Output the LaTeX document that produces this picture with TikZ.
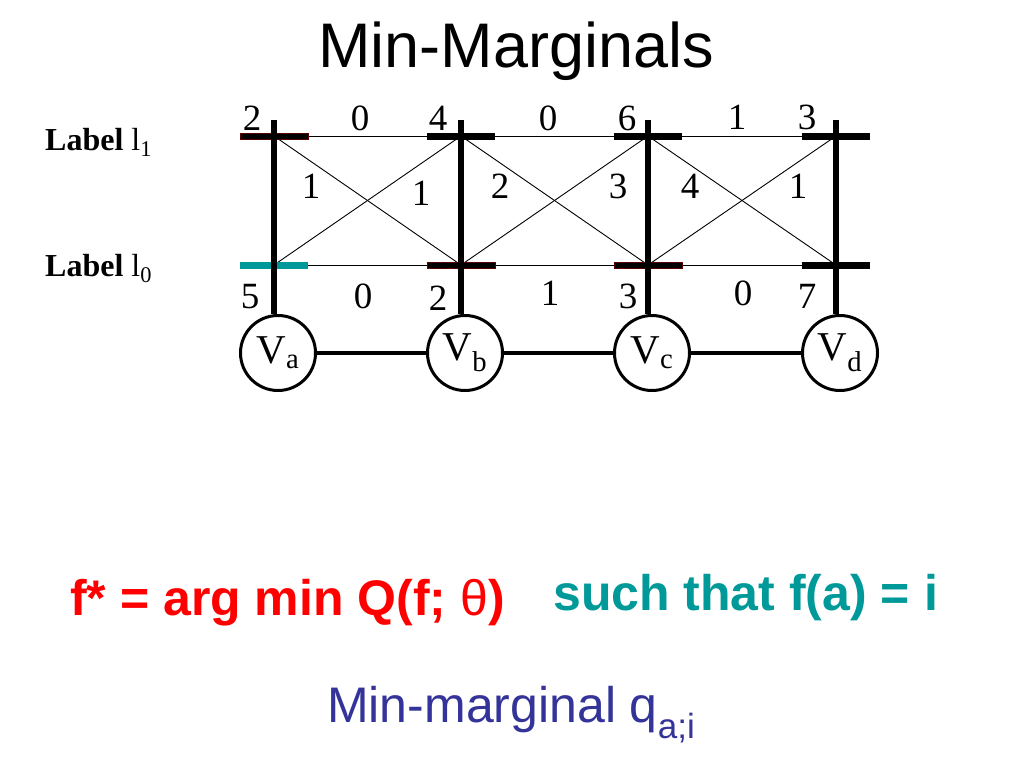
\documentclass[tikz,border=0pt]{standalone}
\usepackage{fontspec}
\setmainfont{Liberation Serif}
\newfontfamily\arial{Liberation Sans}
\definecolor{selteal}{RGB}{0,153,153}
\definecolor{minred}{RGB}{90,0,0}
\definecolor{margblue}{RGB}{51,51,153}
\newcommand\fsz[1]{\fontsize{#1}{#1}\selectfont}
\begin{document}
\begin{tikzpicture}[
        x=1pt, y=-1pt,
        var/.style={circle, draw, line width=3pt, minimum size=75pt, inner sep=0pt, font=\fsz{41}},
        num/.style={anchor=base, inner sep=0pt, font=\fsz{37}},
        labelbar/.style={rectangle, fill=black, minimum width=68pt, minimum height=7pt, inner sep=0pt},
        minbar/.style={labelbar, draw=minred, line width=0.8pt, minimum height=6pt},
        selbar/.style={labelbar, fill=selteal},
        stem/.style={line width=6.5pt},
        pair/.style={line width=0.9pt}
      ]
      \useasboundingbox (0,0) rectangle (1024,768);
      \node[anchor=base west, inner sep=0pt, font=\arial\fsz{63}] (title) at (318,67) {Min-Marginals};
      % variables and their labels
      \foreach \v/\x in {a/274, b/461, c/648, d/836} {
        \node[var] (v\v) at (\x+4,353) {V\textsubscript{\v}};
        \coordinate (\v1) at (\x,136);
        \coordinate (\v0) at (\x,265);
        \coordinate (\v top) at (\x,120);
      }
      \node[anchor=base west, inner sep=0pt, font=\fsz{32}] (lab1) at (45,150) {\textbf{Label} l\textsubscript{1}};
      \node[anchor=base west, inner sep=0pt, font=\fsz{32}] (lab0) at (45,276) {\textbf{Label} l\textsubscript{0}};
      % pairwise potentials
      \foreach \p/\q in {a/b, b/c, c/d} {
        \draw[pair] (\p1) -- (\q1);
        \draw[pair] (\p0) -- (\q0);
        \draw[pair] (\p1) -- (\q0);
        \draw[pair] (\p0) -- (\q1);
        \draw[line width=3.5pt] (v\p) -- (v\q);
      }
      \node[minbar] (ba1) at (a1) {};
      \node[selbar] (ba0) at (a0) {};
      \node[labelbar] (bb1) at (b1) {};
      \node[minbar] (bb0) at (b0) {};
      \node[labelbar] (bc1) at (c1) {};
      \node[minbar] (bc0) at (c0) {};
      \node[labelbar] (bd1) at (d1) {};
      \node[labelbar] (bd0) at (d0) {};
      \foreach \v in {a, b, c, d}
        \draw[stem] (\v top) -- (\v top |- v\v.north);
      % unary potentials
      \node[num] (ua1) at (252,130) {2};
      \node[num] (ub1) at (438,130) {4};
      \node[num] (uc1) at (627,130) {6};
      \node[num] (ud1) at (807,129) {3};
      \node[num] (ua0) at (250,308) {5};
      \node[num] (ub0) at (438,310) {2};
      \node[num] (uc0) at (628,308) {3};
      \node[num] (ud0) at (807,308) {7};
      % pairwise values
      \node[num] (pab11) at (360,130) {0};
      \node[num] (pbc11) at (548,130) {0};
      \node[num] (pcd11) at (737,129) {1};
      \node[num] (pab00) at (363,308) {0};
      \node[num] (pbc00) at (550,305) {1};
      \node[num] (pcd00) at (743,305) {0};
      \node[num] (pab10) at (311,198) {1};
      \node[num] (pab01) at (421,205) {1};
      \node[num] (pbc10) at (500,198) {2};
      \node[num] (pbc01) at (618,198) {3};
      \node[num] (pcd10) at (690,198) {4};
      \node[num] (pcd01) at (798,198) {1};
      % definition
      \node[anchor=base west, inner sep=0pt, text=red, font=\arial\bfseries\fsz{50}] (argmin) at (70,615) {f* = arg min Q(f; {\mdseries θ})};
      \node[anchor=base west, inner sep=0pt, text=selteal, font=\arial\bfseries\fsz{50}] (cond) at (553,610) {such that f(a) = i};
      \node[anchor=base west, inner sep=0pt, text=margblue, font=\arial\fsz{50}] (qdef) at (327,722) {Min-marginal q\textsubscript{a;i}};
      \end{tikzpicture}
\end{document}
